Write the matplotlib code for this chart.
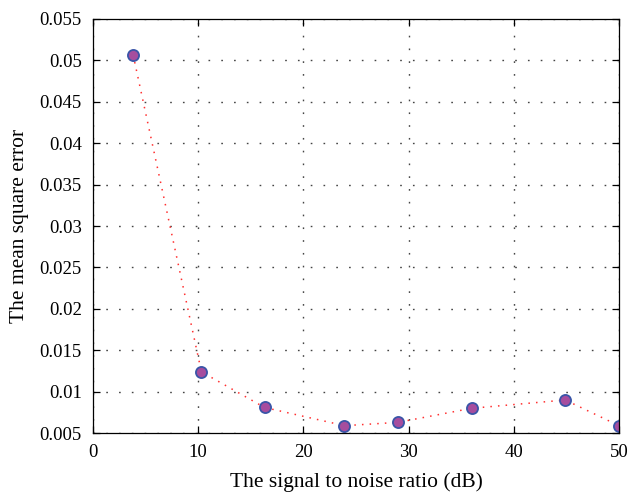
import numpy as np
import matplotlib
matplotlib.use("Agg")
import matplotlib.pyplot as plt
from matplotlib.ticker import FuncFormatter

snr = [3.8, 10.3, 16.3, 23.9, 29.0, 36.0, 44.9, 50.0]
mse = [0.0507, 0.0124, 0.0081, 0.0059, 0.0063, 0.0080, 0.0090, 0.0059]
xticks = [0, 10, 20, 30, 40, 50]
yticks = [0.005, 0.01, 0.015, 0.02, 0.025, 0.03, 0.035, 0.04, 0.045, 0.05, 0.055]

plt.rcParams['font.family'] = ['Liberation Serif', 'DejaVu Serif']

fig = plt.figure(figsize=(6.29, 4.99), dpi=100)
ax = fig.add_axes([0.148, 0.132, 0.836, 0.830])

ax.plot(snr, mse, linestyle=(0, (1, 4)), color='#ff3030', lw=1.1)
ax.plot(snr, mse, linestyle='none', marker='o', markersize=8,
        markerfacecolor='#a64d9e', markeredgecolor='#3a55a8', markeredgewidth=1.3)

ax.set_xlim(0, 50)
ax.set_ylim(0.005, 0.055)
ax.set_xticks(xticks)
ax.set_yticks(yticks)
ax.yaxis.set_major_formatter(FuncFormatter(lambda v, p: ('%.3f' % v).rstrip('0')))
ax.tick_params(direction='in', top=True, right=True, labelsize=13.5, length=5, width=0.9, pad=8)
ax.grid(True, color='#444444', linestyle=(0, (1.2, 8)), linewidth=1.0)
for s in ax.spines.values():
    s.set_linewidth(0.9)

ax.set_xlabel('The signal to noise ratio (dB)', fontsize=15.5, labelpad=8)
ax.set_ylabel('The mean square error', fontsize=15.5, labelpad=8)

fig.savefig('out.png', dpi=100)
